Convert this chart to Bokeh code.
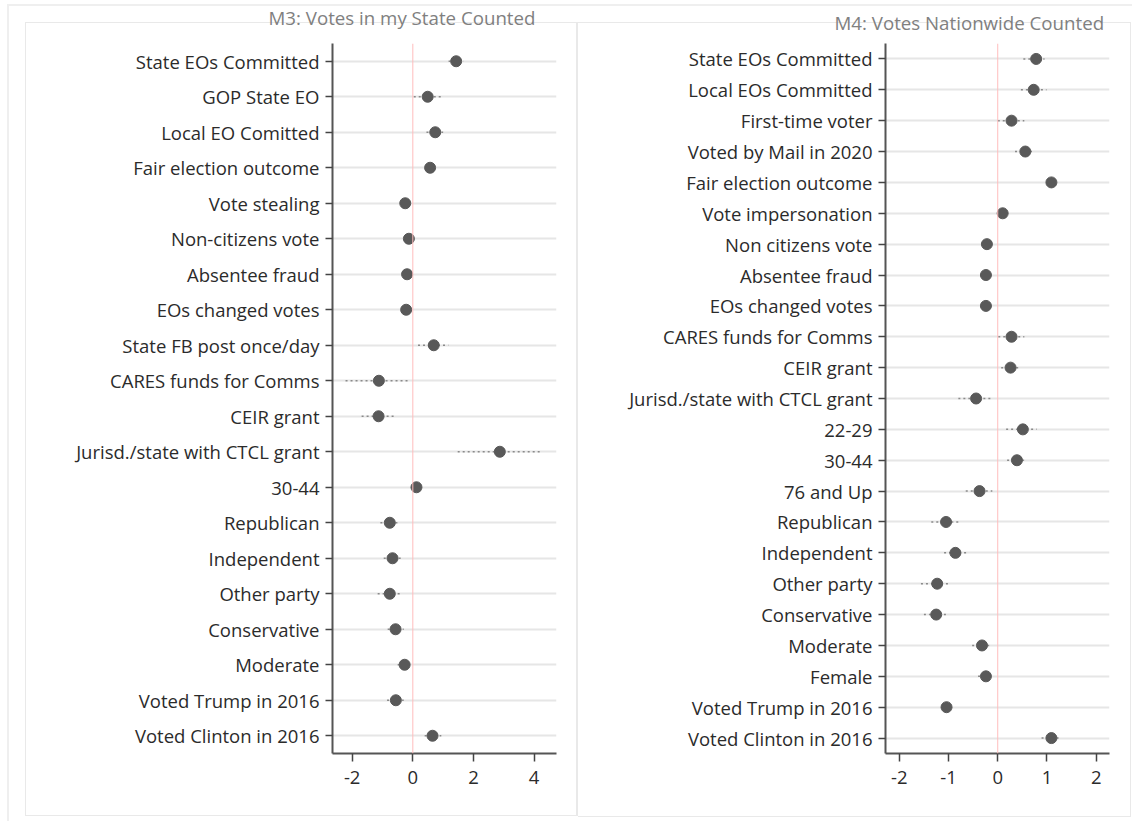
from bokeh.plotting import figure
from bokeh.layouts import row
from bokeh.models import ColumnDataSource, FactorRange, Range1d, FixedTicker, Span, Title
from bokeh.embed import file_html
from bokeh.resources import INLINE

# ---------------- data ----------------
labels_m3 = ["State EOs Committed", "GOP State EO", "Local EO Comitted", "Fair election outcome",
             "Vote stealing", "Non-citizens vote", "Absentee fraud", "EOs changed votes",
             "State FB post once/day", "CARES funds for Comms", "CEIR grant",
             "Jurisd./state with CTCL grant", "30-44", "Republican", "Independent",
             "Other party", "Conservative", "Moderate", "Voted Trump in 2016", "Voted Clinton in 2016"]
est_m3 = [1.43, 0.49, 0.74, 0.57, -0.25, -0.13, -0.19, -0.22, 0.69, -1.12, -1.13, 2.87,
          0.12, -0.76, -0.67, -0.76, -0.57, -0.27, -0.56, 0.65]
lo_m3 = [1.18, 0.03, 0.45, 0.43, -0.37, -0.25, -0.31, -0.34, 0.17, -2.22, -1.69, 1.48,
         0.00, -1.07, -0.96, -1.16, -0.83, -0.50, -0.85, 0.39]
hi_m3 = [1.68, 0.97, 1.00, 0.71, -0.13, -0.01, -0.07, -0.10, 1.17, -0.11, -0.57, 4.27,
         0.24, -0.44, -0.40, -0.41, -0.30, -0.05, -0.30, 0.94]

labels_m4 = ["State EOs Committed", "Local EOs Committed", "First-time voter", "Voted by Mail in 2020",
             "Fair election outcome", "Vote impersonation", "Non citizens vote", "Absentee fraud",
             "EOs changed votes", "CARES funds for Comms", "CEIR grant",
             "Jurisd./state with CTCL grant", "22-29", "30-44", "76 and Up", "Republican",
             "Independent", "Other party", "Conservative", "Moderate", "Female",
             "Voted Trump in 2016", "Voted Clinton in 2016"]
est_m4 = [0.78, 0.73, 0.28, 0.56, 1.09, 0.10, -0.22, -0.24, -0.24, 0.28, 0.26, -0.44,
          0.51, 0.39, -0.37, -1.05, -0.86, -1.23, -1.25, -0.32, -0.24, -1.04, 1.09]
lo_m4 = [0.52, 0.47, 0.00, 0.35, 1.01, 0.02, -0.30, -0.33, -0.35, 0.01, 0.07, -0.80,
         0.17, 0.19, -0.65, -1.35, -1.09, -1.56, -1.50, -0.52, -0.40, -1.13, 0.89]
hi_m4 = [0.95, 0.99, 0.54, 0.72, 1.17, 0.18, -0.14, -0.15, -0.13, 0.54, 0.43, -0.09,
         0.79, 0.56, -0.11, -0.80, -0.64, -0.95, -1.05, -0.16, -0.10, -0.95, 1.26]

ticks_m3 = [-2, 0, 2, 4]
ticks_m4 = [-2, -1, 0, 1, 2]

FONT = "Open Sans"
H = 821


def css_lines(lines):
    layers = [f"linear-gradient({c},{c}) {x}px {y}px / {w}px {h}px no-repeat" for x, y, w, h, c in lines]
    return ", ".join(layers + ["#ffffff"])


def make_title(text, offset, standoff, size="18.7px", color="#808080"):
    return Title(text=text, align="left", offset=offset, standoff=standoff,
                 vertical_align="top", text_font=FONT, text_font_size=size,
                 text_font_style="normal", text_color=color)


def panel(labels, est, lo, hi, ticks, xr, title, width, mb_left, mb_right,
          t_offset, t_standoff, spacer, lines):
    src = ColumnDataSource(dict(label=labels, est=est, lo=lo, hi=hi))
    p = figure(width=width, height=H, output_backend="svg", toolbar_location=None,
               y_range=FactorRange(factors=list(reversed(labels))),
               x_range=Range1d(*xr),
               min_border_left=mb_left, min_border_right=mb_right,
               min_border_top=43, min_border_bottom=68,
               styles={"background": css_lines(lines)})
    p.title.text = ""
    if spacer:
        p.add_layout(make_title(" ", 0, 1, size="7px", color="#ffffff"), "above")
    p.add_layout(make_title(title, t_offset, t_standoff), "above")

    p.outline_line_color = None
    p.background_fill_color = "white"
    p.border_fill_alpha = 0

    p.xgrid.grid_line_color = None
    p.ygrid.grid_line_color = "#e6e6e6"
    p.ygrid.grid_line_width = 2

    p.add_layout(Span(location=0, dimension="height", line_color="#ffbdbd", line_width=1))

    p.segment(x0="lo", y0="label", x1="hi", y1="label", source=src,
              line_color="#8a8a8a", line_width=1.5, line_dash="2 3")
    p.scatter(x="est", y="label", source=src, size=11, fill_color="#595959",
              line_color="#595959")

    for ax in (p.xaxis[0], p.yaxis[0]):
        ax.axis_line_color = "#555555"
        ax.axis_line_width = 2
        ax.major_tick_line_color = "#444444"
        ax.major_tick_line_width = 1.5
        ax.minor_tick_line_color = None
        ax.major_label_text_font = FONT
        ax.major_label_text_color = "#2b2b2b"
        ax.major_label_text_font_size = "18.5px"
    p.yaxis.major_tick_out = 7
    p.yaxis.major_tick_in = 0
    p.yaxis.major_label_standoff = 6
    p.xaxis.ticker = FixedTicker(ticks=ticks)
    p.xaxis.major_label_overrides = {t: str(t) for t in ticks if t < 0}
    p.xaxis.major_tick_out = 8
    p.xaxis.major_tick_in = 0
    p.xaxis.major_label_standoff = 9
    return p


BOX = "#e9e9e9"
OUT = "#efefef"
lines_left = [
    (7, 4, 571, 2, OUT),
    (7, 4, 2, 817, OUT),
    (25, 22, 553, 1, BOX),
    (25, 815, 553, 1, BOX),
    (25, 22, 1, 794, BOX),
    (576, 22, 2, 794, BOX),
]
lines_right = [
    (0, 4, 554, 2, OUT),
    (0, 22, 553, 1, BOX),
    (0, 816, 553, 1, BOX),
    (552, 22, 1, 795, BOX),
]

p1 = panel(labels_m3, est_m3, lo_m3, hi_m3, ticks_m3, (-2.65, 4.74),
           "M3: Votes in my State Counted", 578, 332, 22, -64, 0, True, lines_left)
p2 = panel(labels_m4, est_m4, lo_m4, hi_m4, ticks_m4, (-2.28, 2.27),
           "M4: Votes Nationwide Counted", 554, 307, 23, -51, 13, False, lines_right)

layout = row(p1, p2, spacing=0)
open("out.html", "w").write(file_html(layout, INLINE))
